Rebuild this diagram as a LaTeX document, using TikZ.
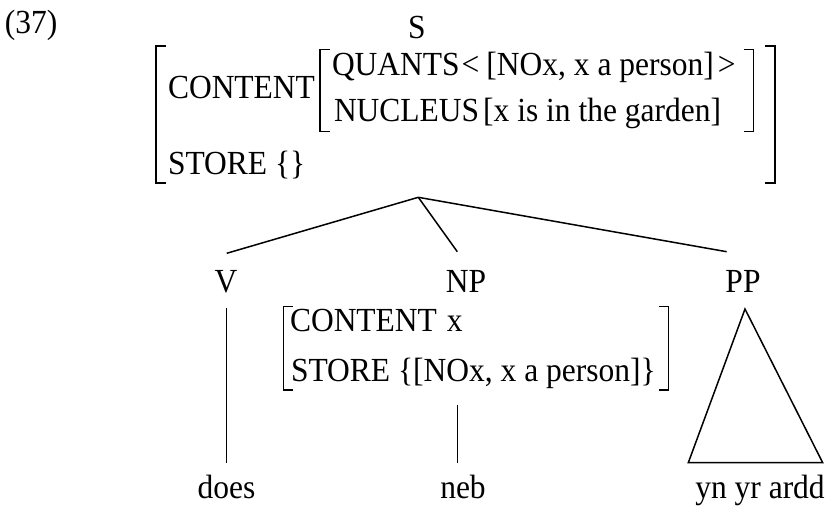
\documentclass[tikz,border=0pt]{standalone}
\usepackage{fontspec}
\setmainfont{Liberation Serif}
\newcommand{\stretchtext}[1]{\scalebox{1}[1.07]{#1}}
\begin{document}
\begin{tikzpicture}[x=1pt,y=-1pt,
  every node/.style={inner sep=0pt, outer sep=0pt, font=\fontsize{31.5}{31.5}\selectfont},
  lft/.style={anchor=base west},
  ctr/.style={anchor=base},
  brk/.style={line width=1.2pt},
  branch/.style={line width=1.5pt}]
\useasboundingbox (0,0) rectangle (828,506);

% example number and root
\node[lft] (num) at (5,33.5) {\stretchtext{(37)}};
\node[ctr] (s) at (417,38) {\stretchtext{S}};

% top AVM brackets
\draw[brk] (166,46) -- (156,46) -- (156,183) -- (166,183);
\draw[brk] (765,46) -- (775,46) -- (775,183) -- (765,183);
\draw[brk] (330,49.5) -- (320,49.5) -- (320,131.5) -- (330,131.5);
\draw[brk] (743.5,49.5) -- (753.5,49.5) -- (753.5,131.5) -- (743.5,131.5);

\node[lft] (content) at (168,98.5) {\stretchtext{CONTENT}};
\node[lft] (quants) at (332,75) {\stretchtext{QUANTS\hspace{2pt}<\hspace{7pt}[NOx, x a person]\hspace{4pt}>}};
\node[lft] (nucleus) at (334,121.5) {\stretchtext{NUCLEUS\hspace{4pt}[x is in the garden]}};
\node[lft] (store) at (168,174.3) {\stretchtext{STORE \{\}}};

% tree branches
\coordinate (apex) at (418.3,197.3);
\coordinate (vtop) at (226.7,253.3);
\coordinate (nptop) at (457.3,251.7);
\coordinate (pptop) at (726.7,251.7);
\draw[branch] (apex) -- (vtop);
\draw[branch] (apex) -- (nptop);
\draw[branch] (apex) -- (pptop);

% daughters
\node[ctr] (v) at (226,292.3) {\stretchtext{V}};
\node[ctr] (np) at (466,292.3) {\stretchtext{NP}};
\node[ctr] (pp) at (743,292.8) {\stretchtext{PP}};

% NP AVM
\draw[brk] (293,306.5) -- (283.3,306.5) -- (283.3,390) -- (293,390);
\draw[brk] (659,306.5) -- (668.5,306.5) -- (668.5,390) -- (659,390);
\node[lft] (npcontent) at (290,331.7) {\stretchtext{CONTENT\hspace{10pt}x}};
\node[lft] (npstore) at (291,381.7) {\stretchtext{STORE \{[NOx, x a person]\}}};

% leaves
\node[ctr] (does) at (226.5,498) {\stretchtext{does}};
\node[ctr] (neb) at (463,498) {\stretchtext{neb}};
\node[ctr] (ardd) at (760,498) {\stretchtext{yn yr ardd}};

\coordinate (vlo) at (226.7,308.3);
\coordinate (vhi) at (226.7,463.3);
\draw[branch] (vlo) -- (vhi);
\coordinate (nplo) at (457.3,405);
\coordinate (nphi) at (457.3,463.3);
\draw[branch] (nplo) -- (nphi);

\coordinate (tritop) at (745,309);
\coordinate (tril) at (688.3,462.7);
\coordinate (trir) at (822.7,462.7);
\draw[branch, line join=miter] (tritop) -- (tril) -- (trir) -- cycle;
\end{tikzpicture}
\end{document}
